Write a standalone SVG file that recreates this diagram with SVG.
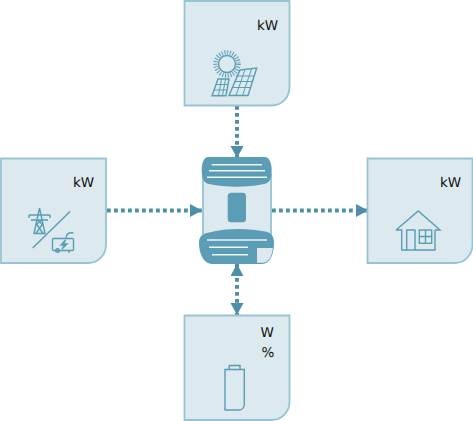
<svg xmlns="http://www.w3.org/2000/svg" width="473" height="421" viewBox="0 0 473 421">
<style>
.card{fill:#dce9ef;stroke:#98c3d3;stroke-width:1.8}
.ico{fill:none;stroke:#5a9db5;stroke-width:1.4}
.ico2{fill:none;stroke:#5a9db5;stroke-width:1}
.lab{font:13.5px "DejaVu Sans",sans-serif;fill:#111;text-rendering:geometricPrecision}
.con{fill:none;stroke:#4d8fa8;stroke-width:4;stroke-dasharray:3.8 3.2}
.cap{fill:#5a9db5}
.wl{stroke:#eef5f8;stroke-width:1.6;fill:none}
</style>
<defs>
<marker id="ah" markerUnits="userSpaceOnUse" markerWidth="14" markerHeight="14" refX="12" refY="6.500" orient="auto-start-reverse"><path d="M0 0L12 6.500L0 13Z" fill="#4d8fa8"/></marker>
<g id="cardshape"><path class="card" d="M0 0H105V86A18 18 0 0 1 87 104.500H0Z"/></g>
</defs>
<g id="connectors">
<path class="con" marker-end="url(#ah)" d="M237 106V158"/>
<path class="con" marker-end="url(#ah)" d="M107 210.500H202"/>
<path class="con" marker-end="url(#ah)" d="M272 210.500H368"/>
<path class="con" marker-start="url(#ah)" marker-end="url(#ah)" d="M237 264V315"/>
</g>
<g id="node-solar">
<use href="#cardshape" x="184.500" y="1"/>
<text class="lab" x="257" y="30">kW</text>
<g class="ico">
<circle cx="227" cy="64" r="8.500"/>
<circle cx="227" cy="64" r="11.500" stroke-width="4.500" stroke-dasharray="1 1.700"/>
<path d="M218 79H229L226 95.700H212Z"/>
<path d="M240 70L256.700 68L248 95.500H229Z"/>
<path class="ico2" d="M216 84.500H228M214 90H227M221.500 79L218.500 95.700M225.500 79L222.500 95.700M236 76H254.500M234 81.500H252.800M232 87.500H251M245 69.500L236 95.500M251.500 69L242.500 95.500"/>
</g>
</g>
<g id="node-grid">
<use href="#cardshape" x="1" y="158.500"/>
<text class="lab" x="73" y="187">kW</text>
<g class="ico">
<path d="M70 211.500L32.700 248"/>
<path d="M39.500 208L34 233.500H45L39.500 208M29 215H50M31 220H48M29 215V218M50 215V218M36.500 224L43 233.500M42.500 224L36 233.500M37 220L42 224M42 220L37 224"/>
<rect x="52.500" y="238.500" width="21" height="12" rx="1"/>
<circle cx="57.500" cy="250.500" r="1.800"/>
<path d="M69 250.500V253M66 238.500C66 234 69 232 73.500 233"/>
<path d="M65.500 240L61 245H64.500L62 249L67 244H63.500Z"/>
</g>
</g>
<g id="node-inverter">
<path d="M203 175H271V245H203Z" fill="#dce9ef" stroke="#98c3d3" stroke-width="1.800"/>
<rect class="cap" x="227.700" y="192.700" width="18.300" height="29.500" rx="3.500"/>
<path class="cap" d="M208 157H265C269 157 271.700 163 271.700 170C271.700 178 270 183 264 184C247 187.500 226 187.500 209 184C203.500 183 201.700 178 201.700 170C201.700 163 204 157 208 157Z"/>
<path class="wl" d="M211.700 164.700H262M209 170.700H265M207 177.300H267"/>
<path class="cap" d="M209 232.500C226 228 248 228 265 231.500C271 232.500 274 236 274 243C274 254 270 264 262 264H212C204 264 199 254 199 243C199 236 203 233.500 209 232.500Z"/>
<path class="wl" d="M207 240H267M209 247.300H248M212 254.700H248"/>
<path d="M257 248H272.700C272.700 253 270 262.700 263 262.700H257Z" fill="#dce9ef"/>
</g>
<g id="node-home">
<use href="#cardshape" x="367.500" y="158.500"/>
<text class="lab" x="440" y="187">kW</text>
<g class="ico">
<path d="M396 230L418.300 211L440 230H435M396 230H401.700V250H435V230"/>
<path d="M406.700 250V230H415V250"/>
<rect x="419.300" y="230" width="12.400" height="13.300"/>
<path d="M425.500 230V243.300M419.300 236.500H431.700"/>
</g>
</g>
<g id="node-battery">
<use href="#cardshape" x="184.500" y="315.500"/>
<text class="lab" x="260.500" y="336.500">W</text>
<text class="lab" x="261.500" y="357">%</text>
<g class="ico">
<path d="M225 369.500H244.300V404C244.300 407.500 242 410 239 410H225Z"/>
<path d="M229.300 369.500V365.500H240V369.500"/>
</g>
</g>
</svg>
